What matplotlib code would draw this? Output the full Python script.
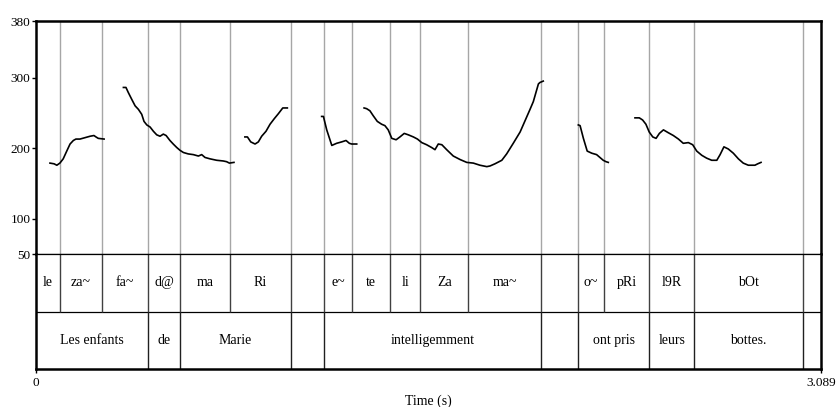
import matplotlib
matplotlib.use("Agg")
import matplotlib.pyplot as plt

plt.rcParams['font.family'] = ['Liberation Serif', 'DejaVu Serif']

t_end = 3.089

# syllable tier
syl_bounds = [0, 0.094, 0.260, 0.440, 0.567, 0.763, 1.004, 1.132, 1.245, 1.394,
              1.512, 1.701, 1.989, 2.133, 2.236, 2.414, 2.591, 3.017, t_end]
syl_labels = ['le', 'za~', 'fa~', 'd@', 'ma', 'Ri', '', 'e~', 'te', 'li', 'Za',
              'ma~', '', 'o~', 'pRi', 'l9R', 'bOt', '']

# word tier
word_bounds = [0, 0.440, 0.567, 1.004, 1.132, 1.989, 2.133, 2.414, 2.591, 3.017, t_end]
word_labels = ['Les enfants', 'de', 'Marie', '', 'intelligemment', '', 'ont pris',
               'leurs', 'bottes.', '']

# F0 contour (Hz), one piece per voiced stretch
t1 = [0.055, 0.071, 0.082, 0.094, 0.107, 0.121, 0.134, 0.147, 0.157, 0.173,
      0.193, 0.213, 0.228, 0.236, 0.245, 0.268]
f1 = [179, 178, 176, 179, 185, 196, 206, 211, 213, 213, 215, 217, 218, 216, 214, 213]

t2 = [0.344, 0.354, 0.363, 0.377, 0.390, 0.403, 0.416, 0.425, 0.436, 0.449,
      0.462, 0.475, 0.488, 0.501, 0.512, 0.527, 0.540, 0.554, 0.567, 0.580,
      0.599, 0.619, 0.639, 0.652, 0.665, 0.685, 0.711, 0.737, 0.750, 0.761, 0.779]
f2 = [286, 286, 279, 269, 260, 255, 248, 238, 233, 230, 224, 219, 217, 220, 218,
      211, 206, 201, 197, 194, 192, 191, 189, 191, 187, 185, 183, 182, 181, 179, 180]

t3 = [0.822, 0.832, 0.845, 0.862, 0.875, 0.888, 0.905, 0.921, 0.938, 0.954,
      0.971, 0.989]
f3 = [216, 216, 209, 206, 209, 217, 224, 234, 242, 249, 257, 257]

t4 = [1.124, 1.131, 1.144, 1.164, 1.183, 1.203, 1.220, 1.233, 1.242, 1.262]
f4 = [245, 245, 226, 204, 207, 209, 211, 207, 206, 206]

t5 = [1.291, 1.301, 1.314, 1.327, 1.343, 1.360, 1.373, 1.386, 1.400, 1.417,
      1.432, 1.449, 1.465, 1.485, 1.501, 1.518, 1.537, 1.557, 1.570, 1.583,
      1.597, 1.616, 1.642, 1.669, 1.695, 1.721, 1.747, 1.774, 1.787, 1.806,
      1.833, 1.852, 1.878, 1.905, 1.944, 1.957, 1.977, 1.983, 1.996]
f5 = [257, 256, 253, 246, 238, 234, 232, 226, 214, 212, 216, 221, 219, 216, 213,
      208, 205, 201, 198, 206, 205, 198, 189, 184, 180, 179, 176, 174, 175, 178,
      183, 192, 207, 223, 255, 266, 291, 293, 295]

t6 = [2.134, 2.141, 2.154, 2.169, 2.187, 2.206, 2.219, 2.232, 2.243, 2.252]
f6 = [233, 232, 214, 196, 193, 191, 187, 183, 181, 180]

t7 = [2.357, 2.374, 2.387, 2.400, 2.413, 2.427, 2.440, 2.453, 2.469, 2.488,
      2.508, 2.528, 2.547, 2.567, 2.584, 2.600, 2.620, 2.639, 2.659, 2.679,
      2.692, 2.707, 2.724, 2.744, 2.764, 2.783, 2.803, 2.829, 2.840, 2.853]
f7 = [243, 243, 240, 234, 223, 216, 214, 221, 226, 222, 218, 213, 207, 208, 205,
      196, 190, 186, 183, 183, 191, 202, 199, 193, 185, 179, 176, 176, 178, 180]

contours = [(t1, f1), (t2, f2), (t3, f3), (t4, f4), (t5, f5), (t6, f6), (t7, f7)]

W, H = 838, 407
fig = plt.figure(figsize=(W / 100, H / 100), dpi=100)
left, width = 36 / W, 785 / W
ax = fig.add_axes([left, (H - 254.3) / H, width, (254.3 - 21) / H])
tg = fig.add_axes([left, (H - 369) / H, width, (369 - 254.3) / H])

# pitch panel
ax.vlines(syl_bounds[1:-1], 50, 380, color='#a6a6a6', lw=1.0, zorder=1)
for t, f in contours:
    ax.plot(t, f, color='black', lw=1.2, zorder=2)
ax.set_xlim(0, t_end)
ax.set_ylim(50, 380)
ax.set_yticks([50, 100, 200, 300, 380])
ax.set_yticklabels(['50', '100', '200', '300', '380'])
ax.set_xticks([])
ax.tick_params(axis='y', direction='out', length=3, width=1, pad=1, labelsize=9.5)
for side in ['top', 'left', 'right']:
    ax.spines[side].set_linewidth(1.8)
ax.spines['bottom'].set_linewidth(0.9)

# text grid
tg.set_xlim(0, t_end)
tg.set_ylim(0, 1)
tg.axhline(0.5, color='black', lw=0.9)
tg.vlines(syl_bounds[1:-1], 0.5, 1, color='#404040', lw=1.0)
tg.vlines(word_bounds[1:-1], 0, 0.5, color='#202020', lw=1.0)
for a, b, s in zip(syl_bounds[:-1], syl_bounds[1:], syl_labels):
    tg.text((a + b) / 2, 0.75, s, ha='center', va='center', fontsize=10)
for a, b, s in zip(word_bounds[:-1], word_bounds[1:], word_labels):
    tg.text((a + b) / 2, 0.25, s, ha='center', va='center', fontsize=10)
tg.set_yticks([])
tg.set_xticks([0, t_end])
tg.set_xticklabels(['0', '3.089'])
tg.tick_params(axis='x', direction='out', length=3, width=1, pad=3, labelsize=9.5)
for side in ['bottom', 'left', 'right']:
    tg.spines[side].set_linewidth(1.8)
tg.spines['top'].set_linewidth(0.9)
tg.set_xlabel('Time (s)', fontsize=10, labelpad=4)

fig.savefig('out.png', dpi=100)
